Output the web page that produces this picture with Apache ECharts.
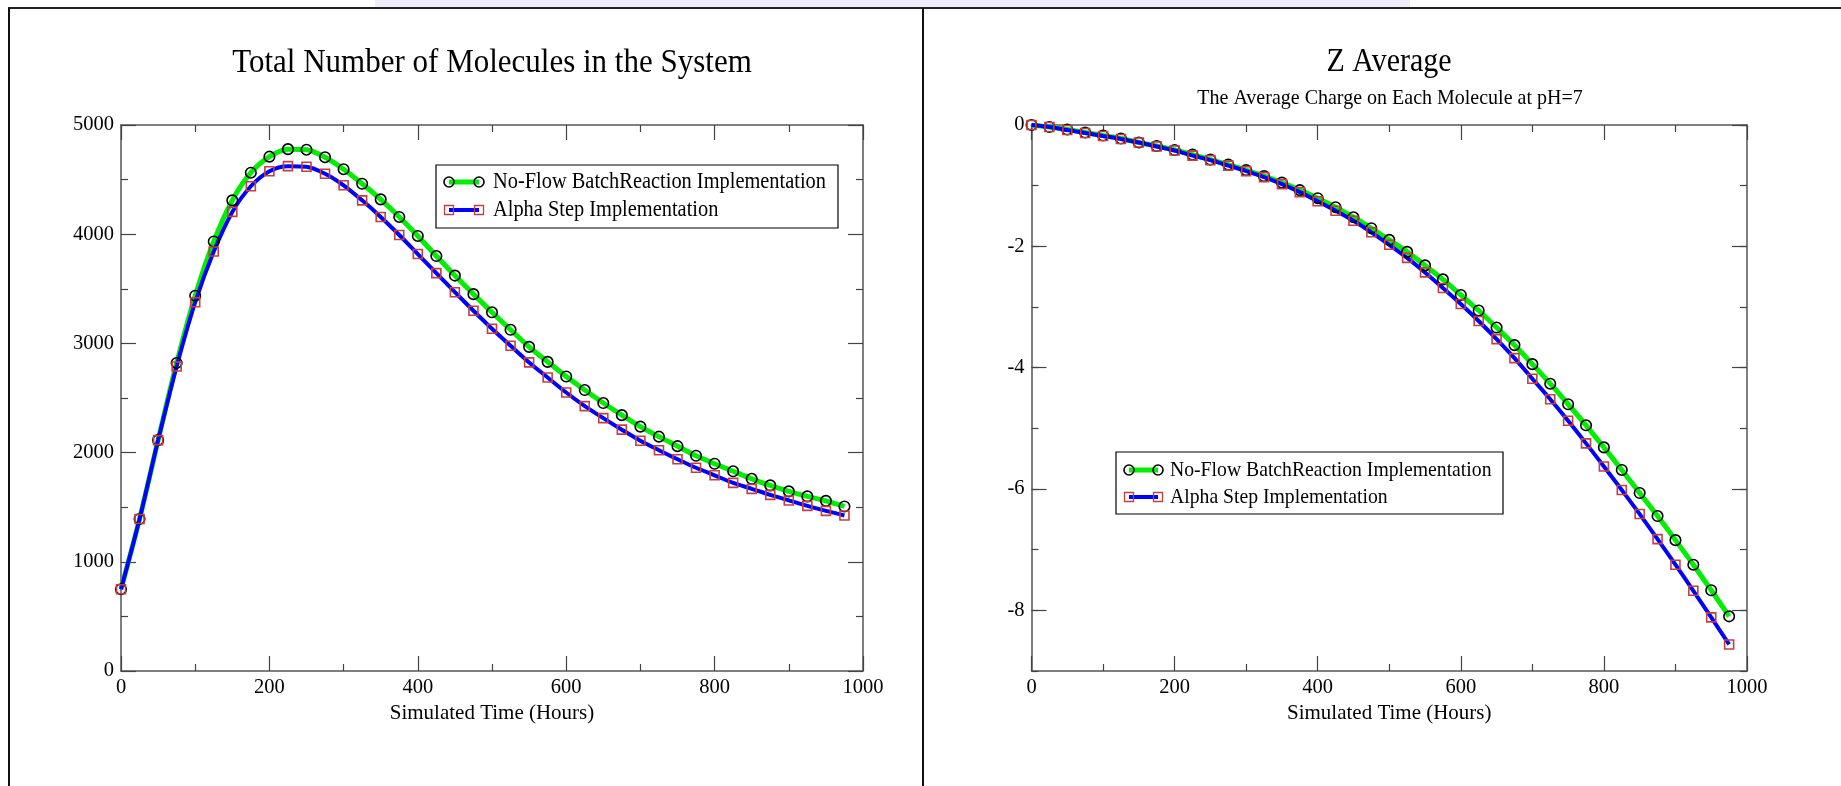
<!DOCTYPE html>
<html><head><meta charset="utf-8">
<script src="https://cdn.jsdelivr.net/npm/echarts@6/dist/echarts.min.js"></script>
<style>html,body{margin:0;padding:0;background:#fff;}#c{width:1841px;height:786px;}</style>
</head><body><div id="c"></div>
<script>
// ---- data ----
const times = [0,25,50,75,100,125,150,175,200,225,250,275,300,325,350,375,400,425,450,475,500,525,550,575,600,625,650,675,700,725,750,775,800,825,850,875,900,925,950,975];
const totalBatch = [749,1392,2114,2821,3437,3933,4310,4563,4710,4779,4774,4705,4595,4462,4319,4158,3984,3800,3621,3451,3285,3125,2968,2831,2697,2573,2454,2343,2238,2146,2059,1971,1898,1829,1760,1700,1645,1599,1558,1507];
const totalAlpha = [749,1392,2114,2789,3377,3841,4204,4439,4577,4623,4618,4554,4448,4310,4158,3993,3818,3644,3469,3299,3134,2978,2826,2688,2550,2426,2316,2210,2109,2022,1939,1861,1792,1723,1668,1613,1562,1512,1466,1424];
const zBatch = [0,-0.033,-0.074,-0.124,-0.174,-0.223,-0.289,-0.347,-0.413,-0.488,-0.570,-0.653,-0.744,-0.843,-0.950,-1.074,-1.207,-1.355,-1.521,-1.702,-1.893,-2.091,-2.314,-2.545,-2.802,-3.058,-3.339,-3.628,-3.942,-4.264,-4.603,-4.950,-5.314,-5.686,-6.066,-6.446,-6.843,-7.248,-7.669,-8.099];
const zAlpha = [0,-0.033,-0.083,-0.132,-0.182,-0.231,-0.289,-0.355,-0.421,-0.504,-0.579,-0.669,-0.760,-0.860,-0.975,-1.107,-1.256,-1.413,-1.579,-1.769,-1.975,-2.190,-2.430,-2.686,-2.950,-3.231,-3.529,-3.843,-4.182,-4.521,-4.876,-5.248,-5.628,-6.017,-6.413,-6.826,-7.248,-7.678,-8.116,-8.562];
const zMajorTicks = [0,-2,-4,-6,-8];
const seriesNames = ['No-Flow BatchReaction Implementation','Alpha Step Implementation'];
const titles = ['Total Number of Molecules in the System','Z Average','The Average Charge on Each Molecule at pH=7'];
const xName = 'Simulated Time (Hours)';

// ---- styles ----
const FONT = 'Liberation Serif';
const AXC = '#555';
const TKC = '#444';
const GREEN = '#00ee00', BLUE = '#0000ff', SQR = '#c04040';
const plain = v => String(v);
const SY = 1.1;

function xAx(grid, pos, lab) {
  return {type:'value', gridIndex:grid, position:pos, min:0, max:1000, interval:200,
    axisLine:{show:true, onZero:false, lineStyle:{color:AXC, width:1.5}},
    axisTick:{show:true, inside:true, length:15, lineStyle:{color:TKC, width:1.2}},
    minorTick:{show:true, splitNumber:2, length:7, lineStyle:{color:TKC, width:1.2}},
    splitLine:{show:false}, minorSplitLine:{show:false},
    axisLabel:{show:lab, margin:6, color:'#000', fontFamily:FONT, fontSize:20.5, formatter:plain},
    name: lab ? xName : '', nameLocation:'middle', nameGap:28,
    nameTextStyle:{color:'#000', fontFamily:FONT, fontSize:21}
  };
}
function yTot(pos, lab) {
  return {type:'value', gridIndex:0, position:pos, min:0, max:5000, interval:1000,
    axisLine:{show:true, onZero:false, lineStyle:{color:AXC, width:1.5}},
    axisTick:{show:true, inside:true, length:15, lineStyle:{color:TKC, width:1.2}},
    minorTick:{show:true, splitNumber:2, length:7, lineStyle:{color:TKC, width:1.2}},
    splitLine:{show:false}, minorSplitLine:{show:false},
    axisLabel:{show:lab, margin:7, color:'#000', fontFamily:FONT, fontSize:20.5, formatter:plain}
  };
}
function yZMajor(pos, lab) {
  return {type:'value', gridIndex:1, position:pos, offset:0, min:-9, max:0,
    axisLine:{show:true, onZero:false, lineStyle:{color:AXC, width:1.5}},
    axisTick:{show:true, inside:true, length:15, customValues:zMajorTicks, lineStyle:{color:TKC, width:1.2}},
    splitLine:{show:false},
    axisLabel:{show:lab, margin:7, customValues:zMajorTicks, color:'#000', fontFamily:FONT, fontSize:20.5, formatter:plain}
  };
}
function yZMinor(pos) {
  return {type:'value', gridIndex:1, position:pos, offset:0, min:-9, max:0, interval:1,
    axisLine:{show:false, onZero:false},
    axisTick:{show:true, inside:true, length:7, lineStyle:{color:TKC, width:1.2}},
    splitLine:{show:false}, axisLabel:{show:false}
  };
}
function line(name, xs, ys, xi, yi, color, width, symbol, symColor, size) {
  return {type:'line', name, xAxisIndex:xi, yAxisIndex:yi,
    data: xs.map((x,i)=>[x, ys[i]]), smooth:0.3, symbol, symbolSize:size, showAllSymbol:true,
    lineStyle:{color, width}, itemStyle:{color:'rgba(0,0,0,0)', borderColor:symColor, borderWidth:1.6},
    emphasis:{disabled:true}, animation:false};
}
function txt(x, y, s, size, align) {
  return {type:'text', x, y, scaleY:SY, style:{text:s, fill:'#000', font:size+'px "'+FONT+'"', textAlign:align, textVerticalAlign:'middle'}, z:102};
}
function legendBox(x0, y0, x1, y1, r1, r2, s1, s2, tx, fs) {
  return [
    {type:'rect', shape:{x:x0, y:y0, width:x1-x0, height:y1-y0}, style:{fill:'#fff', stroke:'#000', lineWidth:1.2}, z:100},
    {type:'line', shape:{x1:s1, y1:r1, x2:s2, y2:r1}, style:{stroke:GREEN, lineWidth:5}, z:101},
    {type:'circle', shape:{cx:s1, cy:r1, r:5}, style:{fill:'none', stroke:'#000', lineWidth:1.6}, z:102},
    {type:'circle', shape:{cx:s2, cy:r1, r:5}, style:{fill:'none', stroke:'#000', lineWidth:1.6}, z:102},
    {type:'line', shape:{x1:s1, y1:r2, x2:s2, y2:r2}, style:{stroke:BLUE, lineWidth:4}, z:101},
    {type:'rect', shape:{x:s1-4.5, y:r2-4.5, width:9, height:9}, style:{fill:'none', stroke:SQR, lineWidth:1.3}, z:102},
    {type:'rect', shape:{x:s2-4.5, y:r2-4.5, width:9, height:9}, style:{fill:'none', stroke:SQR, lineWidth:1.3}, z:102},
    txt(tx, r1, seriesNames[0], fs, 'left'),
    txt(tx, r2, seriesNames[1], fs, 'left')
  ];
}

const chart = echarts.init(document.getElementById('c'), null, {renderer:'canvas'});
chart.setOption({
  backgroundColor:'#fff',
  animation:false,
  grid:[
    {left:121, top:125, width:742, height:546},
    {left:1031.5, top:125, width:715.5, height:546}
  ],
  xAxis:[xAx(0,'bottom',true), xAx(0,'top',false), xAx(1,'bottom',true), xAx(1,'top',false)],
  yAxis:[yTot('left',true), yTot('right',false), yZMajor('left',true), yZMinor('left'), yZMajor('right',false), yZMinor('right')],
  series:[
    line(seriesNames[0], times, totalBatch, 0, 0, GREEN, 5, 'circle', '#000', 10.5),
    line(seriesNames[1], times, totalAlpha, 0, 0, BLUE, 4, 'rect', SQR, 9),
    line(seriesNames[0], times, zBatch, 2, 2, GREEN, 5, 'circle', '#000', 10.5),
    line(seriesNames[1], times, zAlpha, 2, 2, BLUE, 4, 'rect', SQR, 9)
  ],
  graphic:[
    {type:'rect', shape:{x:375, y:0, width:1035, height:7}, style:{fill:'#eeeefc'}, z:0},
    {type:'line', shape:{x1:8, y1:8, x2:1841, y2:8}, style:{stroke:'#222', lineWidth:2}, z:50},
    {type:'line', shape:{x1:9, y1:8, x2:9, y2:786}, style:{stroke:'#111', lineWidth:2}, z:50},
    {type:'line', shape:{x1:923, y1:8, x2:923, y2:786}, style:{stroke:'#111', lineWidth:2}, z:50},
    txt(492, 63, titles[0], 31, 'center'),
    txt(1389, 62, titles[1], 30, 'center'),
    txt(1390, 98, titles[2], 20, 'center'),
    ...legendBox(436, 165, 838, 228, 182, 210, 449, 479, 493, 20.4),
    ...legendBox(1116, 452, 1503, 514, 470, 497, 1129, 1158, 1170, 19.7)
  ]
});
</script></body></html>
